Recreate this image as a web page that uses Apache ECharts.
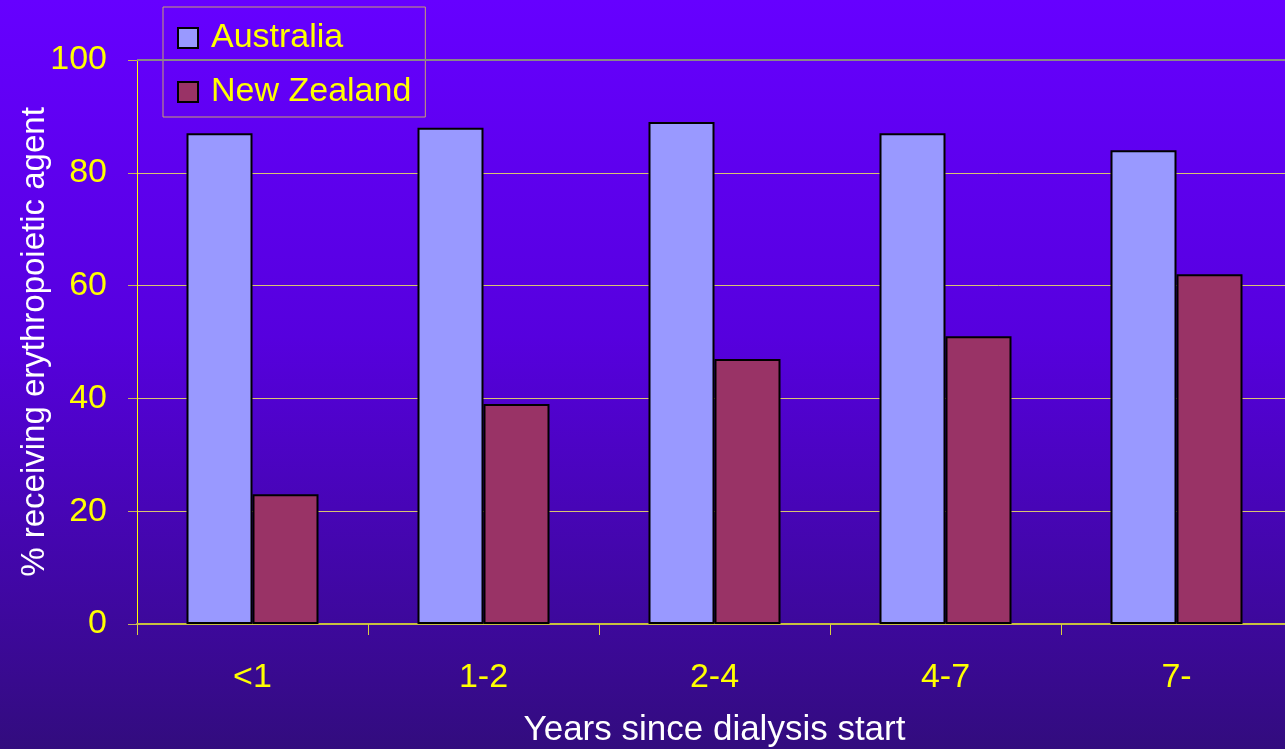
<!DOCTYPE html>
<html>
<head>
<meta charset="utf-8">
<script src="https://cdn.jsdelivr.net/npm/echarts@6/dist/echarts.min.js"></script>
<style>
  html, body { margin: 0; padding: 0; }
  #chart { width: 1285px; height: 749px; }
</style>
</head>
<body>
<div id="chart"></div>
<script>
// Years since dialysis start
const categories = ['<1', '1-2', '2-4', '4-7', '7-'];
// % of patients receiving an erythropoietic agent
const australia = [87, 88, 89, 87, 84];
const newZealand = [23, 39, 47, 51, 62];
const yTicks = { min: 0, max: 100, interval: 20 };

const FONT = '"Liberation Sans", Arial, sans-serif';
const YELLOW = '#ffff00';

const chart = echarts.init(document.getElementById('chart'), null, { renderer: 'canvas' });

chart.setOption({
  backgroundColor: {
    type: 'linear', x: 0, y: 0, x2: 0, y2: 1,
    colorStops: [
      { offset: 0, color: '#6600ff' },
      { offset: 0.45, color: '#5600de' },
      { offset: 1, color: '#320c7e' }
    ]
  },
  animation: false,
  textStyle: { fontFamily: FONT },
  grid: {
    left: 137, right: -7, top: 60, bottom: 125,
    containLabel: false,
    outerBoundsMode: 'none'
  },
  legend: {
    orient: 'vertical',
    left: 163,
    top: 7,
    padding: [14, 14, 8, 14],
    itemGap: 20,
    itemWidth: 20,
    itemHeight: 20,
    icon: 'rect',
    borderColor: '#c8a070',
    borderWidth: 1,
    backgroundColor: 'transparent',
    textStyle: {
      color: YELLOW,
      fontSize: 34,
      lineHeight: 34,
      fontFamily: FONT,
      padding: [0, 0, 0, 8]
    },
    data: ['Australia', 'New Zealand']
  },
  xAxis: {
    type: 'category',
    data: categories,
    boundaryGap: true,
    name: 'Years since dialysis start',
    nameLocation: 'middle',
    nameGap: 89,
    nameMoveOverlap: false,
    nameTextStyle: { color: '#ffffff', fontSize: 35, fontFamily: FONT },
    axisLine: { lineStyle: { color: '#c8c040', width: 2 } },
    axisTick: { show: true, length: 11, lineStyle: { color: '#d8d040', width: 1 } },
    axisLabel: { color: YELLOW, fontSize: 34, margin: 37, fontFamily: FONT },
    splitLine: { show: false }
  },
  yAxis: {
    type: 'value',
    min: yTicks.min,
    max: yTicks.max,
    interval: yTicks.interval,
    name: '% receiving erythropoietic agent',
    nameLocation: 'middle',
    nameGap: 86,
    nameMoveOverlap: false,
    nameTextStyle: { color: '#ffffff', fontSize: 33, fontFamily: FONT },
    axisLine: { show: true, lineStyle: { color: '#ffff00', width: 1 } },
    axisTick: { show: true, length: 9, lineStyle: { color: '#c8b060', width: 1 } },
    axisLabel: { color: YELLOW, fontSize: 34, margin: 30, fontFamily: FONT },
    splitLine: {
      show: true,
      lineStyle: { color: '#d8c470', width: 1 }
    }
  },
  series: [
    {
      name: 'Australia',
      type: 'bar',
      data: australia,
      barWidth: 66,
      barGap: '0%',
      itemStyle: { color: '#9999ff', borderColor: '#000000', borderWidth: 2 },
      markLine: {
        silent: true,
        symbol: 'none',
        label: { show: false },
        lineStyle: { color: '#888888', width: 2, type: 'solid' },
        data: [{ yAxis: yTicks.max }]
      }
    },
    {
      name: 'New Zealand',
      type: 'bar',
      data: newZealand,
      barWidth: 66,
      barGap: '0%',
      itemStyle: { color: '#993366', borderColor: '#000000', borderWidth: 2 }
    }
  ]
});
</script>
</body>
</html>
